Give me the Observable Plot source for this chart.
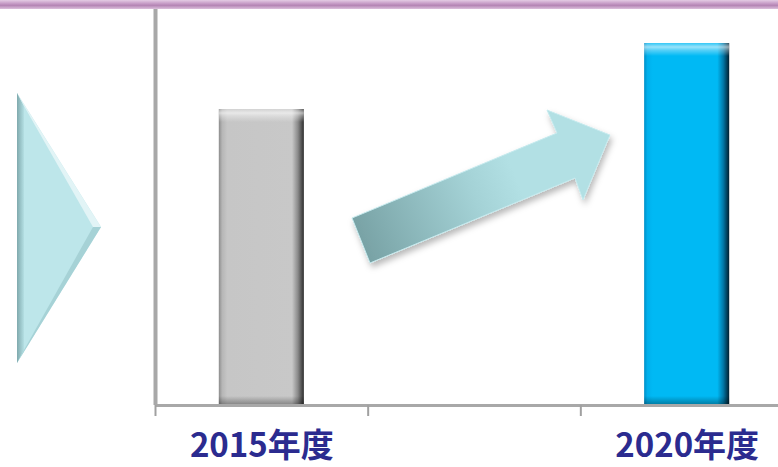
<!DOCTYPE html>
<html><head><meta charset="utf-8">
<script src="https://cdn.jsdelivr.net/npm/d3@7"></script>
<script src="https://cdn.jsdelivr.net/npm/@observablehq/plot@0.6"></script>
<style>
html,body{margin:0;padding:0;background:#fff;overflow:hidden}
#wrap{position:relative;width:778px;height:467px}
#band{position:absolute;left:0;top:0;width:778px;height:9px;background:linear-gradient(#e4cce4,#c9a0c9 35%,#b485b4 60%,#dcc0dc)}
#deco{position:absolute;left:0;top:0;pointer-events:none}
</style></head><body>
<div id="wrap"><div id="chart"></div><div id="band"></div>
<svg id="deco" width="778" height="467">
  <defs>
    <linearGradient id="arrowG" gradientUnits="userSpaceOnUse" x1="360" y1="240" x2="610" y2="135">
      <stop offset="0" stop-color="#78a2a5"/>
      <stop offset="0.45" stop-color="#a4d2d6"/>
      <stop offset="0.62" stop-color="#b2e0e4"/>
      <stop offset="1" stop-color="#b2e0e4"/>
    </linearGradient>
    <linearGradient id="triL" x1="0" y1="0" x2="1" y2="0">
      <stop offset="0" stop-color="#7fa9ad"/>
      <stop offset="1" stop-color="#b4dfe3"/>
    </linearGradient>
    <filter id="shadow" x="-20%" y="-20%" width="140%" height="160%">
      <feDropShadow dx="2" dy="4" stdDeviation="3" flood-color="#000" flood-opacity="0.28"/>
    </filter>
  </defs>
  <g filter="url(#shadow)">
    <polygon points="370,263 352,218 557,133 547,110 610,135 583,200 575,178" fill="url(#arrowG)" stroke="#c6eaee" stroke-width="1"/>
  </g>
  <g>
    <polygon points="17,93 17,363 101,227" fill="#bde6ea"/>
    <polygon points="17,93 24,106 24,350 17,363" fill="url(#triL)"/>
    <polygon points="17,93 101,227 93,227 24,106" fill="#e2f4f6"/>
    <polygon points="101,227 17,363 24,350 93,227" fill="#a6d2d6"/>
  </g>
</svg>
</div>
<script>
// categories along the x axis (the middle slot is empty and holds the arrow)
const categories = ["2015年度", "", "2020年度"];
const values = [296, null, 362];
const tickLabels = ["2015年度", "2020年度"];

const barStyles = {
  0: {stops: [[0,"#8c8c8c"],[0.04,"#b6b6b6"],[0.1,"#c6c6c6"],[0.86,"#c8c8c8"],[0.93,"#8a8a8a"],[1,"#2e2e2e"]]},
  2: {stops: [[0,"#0090c8"],[0.04,"#00b0ec"],[0.1,"#00b9f4"],[0.86,"#00b9f4"],[0.93,"#0078a8"],[1,"#001e2e"]]}
};

const rows = categories.map((c, i) => ({c, i, v: values[i]})).filter(d => d.v != null && tickLabels.includes(d.c));

const plot = Plot.plot({
  width: 778, height: 467,
  marginTop: 9, marginBottom: 62, marginLeft: 155, marginRight: 0,
  x: {type: "linear", domain: [0, categories.length], range: [155, 793], axis: null},
  y: {domain: [0, 396], axis: null},
  color: {type: "identity"},
  style: {background: "transparent"},
  marks: [
    Plot.rectY(rows, {x1: d => d.i + 0.3, x2: d => d.i + 0.7, y: "v", fill: d => `url(#barH${d.i})`}),
    Plot.rectY(rows, {x1: d => d.i + 0.3, x2: d => d.i + 0.7, y: "v", fill: d => `url(#barV${d.i})`}),
    Plot.ruleY([0], {stroke: "#a8a8a8", strokeWidth: 3}),
    Plot.ruleX([0], {stroke: "#a8a8a8", strokeWidth: 4}),
    Plot.axisX({ticks: d3.range(categories.length + 1), tickSize: 11, tickFormat: () => "", stroke: "#a0a0a0", strokeWidth: 2}),
    Plot.text(rows, {x: d => d.i + 0.5, y: 0, text: "c", dy: 41, fontSize: 33, fontWeight: "bold",
      fill: "#2b2b8f", fontFamily: "'Noto Sans CJK JP', 'Noto Sans', sans-serif"})
  ]
});

// gradient definitions for bevelled bars
const ys = plot.scale("y");
const svg = d3.select(plot);
const defs = svg.insert("defs", ":first-child");
rows.forEach(d => {
  const g = defs.append("linearGradient").attr("id", `barH${d.i}`).attr("x1", 0).attr("y1", 0).attr("x2", 1).attr("y2", 0);
  barStyles[d.i].stops.forEach(([o, c]) => g.append("stop").attr("offset", o).attr("stop-color", c));
  const h = ys.apply(0) - ys.apply(d.v);
  const v = defs.append("linearGradient").attr("id", `barV${d.i}`).attr("x1", 0).attr("y1", 0).attr("x2", 0).attr("y2", 1);
  [[0, "#fff", 0.2], [4 / h, "#fff", 0.6], [7 / h, "#fff", 0.35], [13 / h, "#fff", 0],
   [(h - 9) / h, "#000", 0], [1, "#000", 0.35]].forEach(([o, c, a]) =>
    v.append("stop").attr("offset", o).attr("stop-color", c).attr("stop-opacity", a));
});

document.getElementById("chart").appendChild(plot);
</script>
</body></html>
